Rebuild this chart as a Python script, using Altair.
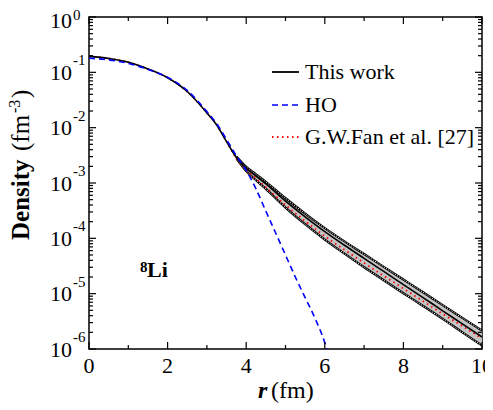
import altair as alt
import pandas as pd

# ---- data ----
r = [0, 0.5, 1, 1.5, 2, 2.5, 3, 3.25, 3.5, 3.75, 4, 4.25, 4.5, 5, 5.5, 6, 6.5, 7, 7.5, 8, 8.5, 9, 9.5, 10]
this_work = [0.194, 0.178, 0.152, 0.115, 0.080, 0.045, 0.0185, 0.0112, 0.0056, 0.0029, 0.00185, 1.33e-3,
             9.6e-4, 4.7e-4, 2.45e-4, 1.32e-4, 7.5e-5, 4.35e-5, 2.52e-5, 1.46e-5, 8.5e-6, 4.9e-6, 2.85e-6, 1.65e-6]
fan = [0.194, 0.178, 0.152, 0.115, 0.080, 0.045, 0.0185, 0.0112, 0.0056, 0.0028, 0.00172, 1.2e-3,
       8.4e-4, 4.0e-4, 2.05e-4, 1.1e-4, 6.2e-5, 3.6e-5, 2.1e-5, 1.24e-5, 7.3e-6, 4.3e-6, 2.6e-6, 1.55e-6]
band_upper = [0.201, 0.185, 0.158, 0.119, 0.083, 0.047, 0.0192, 0.0116, 0.0058, 0.0030, 0.00195, 1.43e-3,
              1.05e-3, 5.3e-4, 2.8e-4, 1.53e-4, 8.8e-5, 5.2e-5, 3.05e-5, 1.8e-5, 1.06e-5, 6.2e-6, 3.65e-6, 2.15e-6]
band_lower = [0.187, 0.172, 0.147, 0.111, 0.077, 0.043, 0.0178, 0.0108, 0.0054, 0.0028, 0.00165, 1.12e-3,
              7.8e-4, 3.6e-4, 1.8e-4, 9.5e-5, 5.3e-5, 3.0e-5, 1.75e-5, 1.02e-5, 6.0e-6, 3.5e-6, 2.0e-6, 1.15e-6]

ho_r = [0, 0.5, 1, 1.5, 2, 2.5, 3, 3.25, 3.5, 3.75, 4, 4.25, 4.5, 4.75, 5, 5.25, 5.5, 5.75, 6, 6.05]
ho = [0.18, 0.168, 0.145, 0.113, 0.081, 0.047, 0.0195, 0.0118, 0.0061, 0.0031, 0.0017, 7.8e-4,
      3.1e-4, 1.25e-4, 5.0e-5, 2.0e-5, 8.5e-6, 3.6e-6, 1.3e-6, 1.0e-6]

x_major = [0, 2, 4, 6, 8, 10]
x_labels = ["0", "2", "4", "6", "8", "10"]
x_minor = [1, 3, 5, 7, 9]
y_major = [1, 1e-1, 1e-2, 1e-3, 1e-4, 1e-5, 1e-6]
y_exp = ["0", "-1", "-2", "-3", "-4", "-5", "-6"]
y_minor = [m * 10.0 ** (-k) for k in range(1, 7) for m in range(2, 10)]

legend_labels = ["This work", "HO", "G.W.Fan et al. [27]"]

# ---- layout ----
W, H = 393, 332
FONT = "Liberation Serif"
xs = alt.Scale(domain=[0, 10], nice=False, zero=False)
ys = alt.Scale(type="log", domain=[1e-6, 1], nice=False)
X = lambda f: alt.X(f, type="quantitative", scale=xs, axis=None)
Y = lambda f: alt.Y(f, type="quantitative", scale=ys, axis=None)

df = pd.DataFrame({"r": r, "tw": this_work, "fan": fan, "up": band_upper, "lo": band_lower})
dho = pd.DataFrame({"r": ho_r, "ho": ho})
one = pd.DataFrame({"t": [0]})

base = alt.Chart(df)
band = base.mark_area(color="#c4c4c4", interpolate="monotone", clip=True).encode(
    x=X("r"), y=Y("lo"), y2="up")
tail = base.transform_filter("datum.r >= 3.75")
edges = []
for f in ["up", "lo"]:
    edges.append(tail.mark_line(color="black", strokeWidth=2.3, interpolate="monotone", clip=True)
                 .encode(x=X("r"), y=Y(f)))
    edges.append(tail.mark_line(color="white", strokeWidth=1.0, strokeDash=[1.1, 1.5],
                                interpolate="monotone", clip=True)
                 .encode(x=X("r"), y=Y(f)))
fan_line = base.mark_line(color="#ff0000", strokeWidth=1.8, strokeDash=[1.5, 3.5],
                          interpolate="monotone", clip=True).encode(x=X("r"), y=Y("fan"))
tw_line = base.mark_line(color="black", strokeWidth=1.6, interpolate="monotone", clip=True).encode(
    x=X("r"), y=Y("tw"))
ho_line = alt.Chart(dho).mark_line(color="#0000ff", strokeWidth=1.6, strokeDash=[6, 4],
                                   interpolate="monotone", clip=True).encode(x=X("r"), y=Y("ho"))

# ---- ticks (inward, mirrored) ----
dym = pd.DataFrame({"v": y_major, "e": y_exp, "b": ["10"] * len(y_major)})
dyn = pd.DataFrame({"v": y_minor})
dxm = pd.DataFrame({"v": x_major, "lab": x_labels})
dxn = pd.DataFrame({"v": x_minor})
ticks = []
for d, L in [(dym, 7), (dyn, 4)]:
    ticks.append(alt.Chart(d).mark_rule(color="black", strokeWidth=1.2).encode(
        y=Y("v"), x=alt.value(0), x2=alt.value(L)))
    ticks.append(alt.Chart(d).mark_rule(color="black", strokeWidth=1.2).encode(
        y=Y("v"), x=alt.value(W - L), x2=alt.value(W)))
for d, L in [(dxm, 7), (dxn, 4)]:
    ticks.append(alt.Chart(d).mark_rule(color="black", strokeWidth=1.2).encode(
        x=X("v"), y=alt.value(H), y2=alt.value(H - L)))
    ticks.append(alt.Chart(d).mark_rule(color="black", strokeWidth=1.2).encode(
        x=X("v"), y=alt.value(0), y2=alt.value(L)))

# ---- tick labels ----
top_lab = alt.datum.v >= 0.5
ylab_base = alt.Chart(dym).transform_filter(~top_lab).mark_text(
    font=FONT, fontSize=22, align="right", baseline="alphabetic", dy=7.5, color="black").encode(
    y=Y("v"), x=alt.value(-17), text="b:N")
ylab_exp = alt.Chart(dym).transform_filter(~top_lab).mark_text(
    font=FONT, fontSize=15, align="left", baseline="alphabetic", dy=-7, color="black").encode(
    y=Y("v"), x=alt.value(-16), text="e:N")
ylab_base_top = alt.Chart(dym).transform_filter(top_lab).mark_text(
    font=FONT, fontSize=22, align="right", baseline="alphabetic", dy=11, color="black").encode(
    y=Y("v"), x=alt.value(-17), text="b:N")
ylab_exp_top = alt.Chart(dym).transform_filter(top_lab).mark_text(
    font=FONT, fontSize=15, align="left", baseline="alphabetic", dy=2.5, color="black").encode(
    y=Y("v"), x=alt.value(-16), text="e:N")
xlab = alt.Chart(dxm).mark_text(font=FONT, fontSize=22, align="center", baseline="alphabetic",
                                color="black").encode(
    x=X("v"), y=alt.value(356), text="lab:N")


def txt(s, x, y, size, weight="normal", style="normal", align="left", angle=0):
    kw = dict(font=FONT, fontSize=size, fontWeight=weight, fontStyle=style, align=align,
              baseline="alphabetic", color="black")
    if angle:
        kw["angle"] = angle
    return alt.Chart(one).mark_text(**kw).encode(x=alt.value(x), y=alt.value(y), text=alt.value(s))


texts = [
    # x title
    txt("r", 169, 381, 24, weight="bold", style="italic"),
    txt("(fm)", 182, 381, 24),
    # y title (rotated)
    txt("Density", -60, 223, 25, weight="bold", angle=270),
    txt("(fm", -60, 134, 25, angle=270),
    txt("-3", -69, 96, 16, angle=270),
    txt(")", -60, 81, 25, angle=270),
    # nucleus label
    txt("8", 51, 255, 15, weight="bold"),
    txt("Li", 58, 260, 22, weight="bold"),
]

# ---- legend ----
leg_y = [55, 88, 120]
legend = [
    alt.Chart(one).mark_rule(color="black", strokeWidth=1.8).encode(
        x=alt.value(183), x2=alt.value(210), y=alt.value(leg_y[0])),
    alt.Chart(one).mark_rule(color="#0000ff", strokeWidth=1.6, strokeDash=[6, 4]).encode(
        x=alt.value(183), x2=alt.value(210), y=alt.value(leg_y[1])),
    alt.Chart(one).mark_rule(color="#ff0000", strokeWidth=1.8, strokeDash=[1.5, 3.5]).encode(
        x=alt.value(183), x2=alt.value(210), y=alt.value(leg_y[2])),
]
for lab, yy in zip(legend_labels, leg_y):
    legend.append(txt(lab, 216, yy + 7, 22))

chart = alt.layer(
    band, *edges, fan_line, tw_line, ho_line, *ticks,
    ylab_base, ylab_exp, ylab_base_top, ylab_exp_top, xlab, *texts, *legend
).properties(
    width=W, height=H,
    padding={"left": 81, "top": 9, "right": 3, "bottom": 60},
    autosize=alt.AutoSizeParams(type="none"),
).configure_view(stroke="black", strokeWidth=1.5)

chart.save("out.html", embed_options={"renderer": "svg", "actions": False})
